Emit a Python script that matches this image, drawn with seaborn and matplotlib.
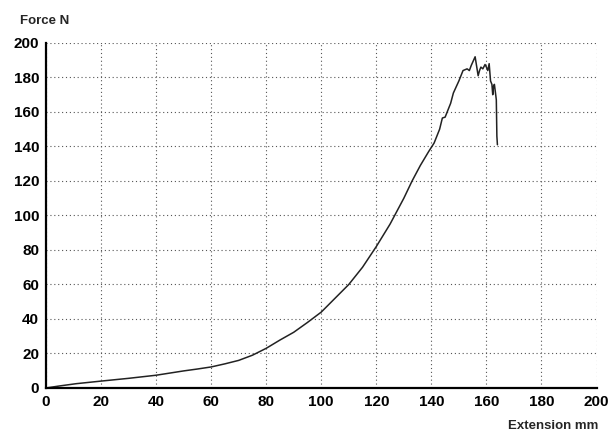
import pandas as pd
import numpy as np
import matplotlib.pyplot as plt
import seaborn as sns

# Force / extension readings taken from the test plot
extension = [0, 5, 11, 20, 30, 40, 50, 55, 60, 65, 70, 75, 80, 85, 90, 95,
             100, 105, 110, 115, 120, 125, 130, 133, 136, 139, 141, 143, 144,
             145, 147, 148, 150, 151.5, 153, 153.8, 154.5, 155.9,
             156.5, 157, 157.5, 158, 158.7, 159.5, 160, 160.5, 161,
             161.5, 162, 162.3, 162.6, 162.9, 163.3, 163.6, 163.8, 164]
force = [0, 1.2, 2.5, 4, 5.6, 7.4, 9.9, 11, 12.2, 14, 16, 19, 23, 27.8, 32.3, 38,
         44, 52, 60, 70, 82, 95, 110, 120, 129, 137, 142, 150, 156.5,
         157, 165, 171, 178, 184, 185, 184, 187, 192,
         186, 181, 184, 186, 185, 187.5, 186, 184, 188,
         178, 176, 170, 175, 176, 171, 167, 146, 141]

x_ticks = list(range(0, 201, 20))
y_ticks = list(range(0, 201, 20))

df = pd.DataFrame({'Extension': extension, 'Force': force})

sns.set_style("white")
plt.rcParams['font.family'] = ['Liberation Sans', 'DejaVu Sans']

fig = plt.figure(figsize=(6.09, 4.34), dpi=100)
ax = fig.add_axes([0.0755, 0.106, 0.904, 0.795])

sns.lineplot(data=df, x='Extension', y='Force', sort=False,
             color='#222222', linewidth=1.1, ax=ax)

ax.set_xlim(0, 200)
ax.set_ylim(0, 200)
ax.set_xticks(x_ticks)
ax.set_yticks(y_ticks)
ax.grid(True, linestyle=(0, (1, 2.5)), color='#555555', linewidth=0.8)

for side in ['top', 'right']:
    ax.spines[side].set_visible(False)
for side in ['left', 'bottom']:
    ax.spines[side].set_color('black')
    ax.spines[side].set_linewidth(1.6)

ax.tick_params(axis='both', direction='out', length=3, width=1,
               labelsize=11, colors='black', pad=2)
for lab in ax.get_xticklabels() + ax.get_yticklabels():
    lab.set_fontweight('bold')

ax.set_xlabel('')
ax.set_ylabel('')
fig.text(0.033, 0.945, 'Force N', fontsize=9.5, fontweight='bold')
fig.text(0.982, 0.012, 'Extension mm', fontsize=9.5, fontweight='bold', ha='right')

fig.savefig('out.png', dpi=100)
